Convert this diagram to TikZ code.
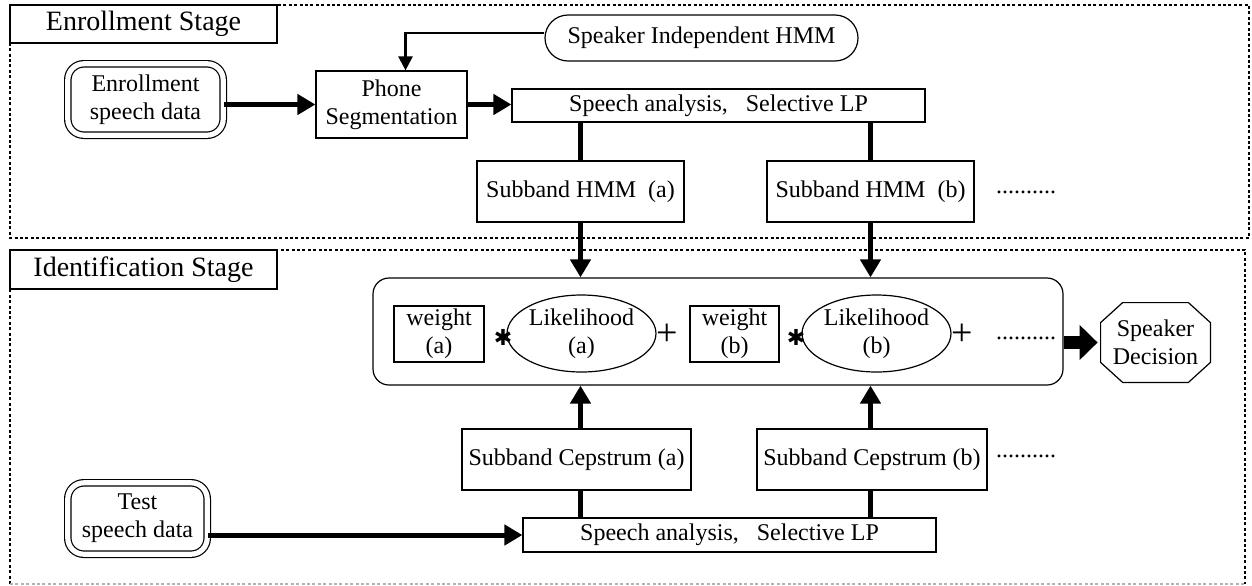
\documentclass[tikz,border=0pt]{standalone}
\usepackage{fontspec}
\setmainfont{Liberation Serif}
\newfontfamily\symfont{DejaVu Sans}
\usetikzlibrary{positioning,arrows.meta,shapes.geometric}

\begin{document}
\begin{tikzpicture}[x=0.5pt, y=-0.5pt, font=\fontsize{12}{14}\selectfont,
  box/.style={draw, line width=0.6pt, inner sep=0pt, align=center},
  datanode/.style={draw, line width=0.6pt, double, double distance=2.6pt, rounded corners=8pt, inner sep=0pt, align=center},
  stageframe/.style={line width=0.6pt, dash pattern=on 1.5pt off 1.2pt},
  flow/.style={line width=2.5pt, -{Triangle[length=9pt,width=10pt]}},
  link/.style={line width=2.5pt}]
\useasboundingbox (0,0) rectangle (1252,585);
\draw[stageframe] (10,5) rectangle (1249,238);
\draw[stageframe] (10,584) -- (10,250) -- (1245,250) -- (1245,584);
\draw[stageframe, gray!60] (10,584) -- (1245,584);
\node[box, minimum width=133.5pt, minimum height=19pt, fill=white, font=\fontsize{14}{16}\selectfont] (enrstage) at (143.5,24) {Enrollment Stage};
\node[box, minimum width=133.5pt, minimum height=19.5pt, fill=white, font=\fontsize{14}{16}\selectfont] (idstage) at (143.5,269.5) {Identification Stage};
% enrollment
\node[datanode, minimum width=77.7pt, minimum height=35.7pt] (enr) at (145.5,99.5) {Enrollment\\speech data};
\node[box, minimum width=75.5pt, minimum height=33.5pt] (phone) at (391.5,104.5) {Phone\\Segmentation};
\node[box, rounded corners=11.5pt, minimum width=156.5pt, minimum height=23pt] (sihmm) at (701.5,38) {Speaker Independent HMM};
\node[box, minimum width=206.5pt, minimum height=16.5pt] (spa) at (718.5,105.5) {Speech analysis, \ \ Selective LP};
\node[box, minimum width=103.5pt, minimum height=30.5pt] (hmma) at (580.5,191.5) {Subband HMM\ \ (a)};
\node[box, minimum width=103.5pt, minimum height=30.5pt] (hmmb) at (870.5,191.5) {Subband HMM\ \ (b)};
\node (dotsa) at (1026,192) {..........};
\draw[flow] (enr.east |- phone.west) -- (phone.west);
\draw[flow] (phone.east) -- (phone.east -| spa.west);
\draw[line width=1.2pt, -{Triangle[length=7pt,width=7pt]}] ([yshift=2.5pt]sihmm.west) -| ([xshift=7pt]phone.north);
\draw[link] (spa.south -| hmma) -- (hmma.north);
\draw[link] (spa.south -| hmmb) -- (hmmb.north);
% identification
\node[box, rounded corners=8pt, minimum width=345pt, minimum height=53.5pt] (lbox) at (718,331.5) {};
\node[box, minimum width=45pt, minimum height=28pt] (wa) at (439,334) {weight\\(a)};
\node (asta) at (503,337) {\symfont\fontsize{11}{12}\selectfont ✱};
\node[box, ellipse, minimum width=64.5pt, minimum height=38.5pt] (la) at (581.5,333.5) {Likelihood\\(a)};
\node (plusa) at (667,335) {\fontsize{19}{20}\selectfont +};
\node[box, minimum width=44.5pt, minimum height=28pt] (wb) at (734.5,334) {weight\\(b)};
\node (astb) at (796,337) {\symfont\fontsize{11}{12}\selectfont ✱};
\node[box, ellipse, minimum width=63.5pt, minimum height=38.5pt] (lb) at (876.5,333.5) {Likelihood\\(b)};
\node (plusb) at (962,335) {\fontsize{19}{20}\selectfont +};
\node (dotsb) at (1026,338) {..........};
\node[inner sep=0pt, align=center, minimum width=54.5pt, minimum height=39.5pt] (sdec) at (1155.5,342.5) {Speaker\\Decision};
\draw[line width=0.6pt] ([xshift=11pt]sdec.north west) -- ([xshift=-11pt]sdec.north east) -- ([yshift=-10pt]sdec.north east) -- ([yshift=10pt]sdec.south east) -- ([xshift=-11pt]sdec.south east) -- ([xshift=11pt]sdec.south west) -- ([yshift=10pt]sdec.south west) -- ([yshift=-10pt]sdec.north west) -- cycle;
\draw[line width=6.5pt, -{Triangle[length=9pt,width=17pt]}] (lbox.east |- sdec.west) -- ([xshift=-1.5pt]sdec.west);
\node[box, minimum width=114.5pt, minimum height=30.5pt] (cepa) at (576.5,459.5) {Subband Cepstrum (a)};
\node[box, minimum width=115pt, minimum height=30.5pt] (cepb) at (872,459.5) {Subband Cepstrum (b)};
\node (dotsc) at (1026,456) {..........};
\node[box, minimum width=206.5pt, minimum height=17pt] (spb) at (729.5,535) {Speech analysis, \ \ Selective LP};
\node[datanode, minimum width=69.7pt, minimum height=35.7pt] (test) at (137.5,518.5) {Test\\speech data};
\draw[flow] (hmma.south) -- (hmma.south |- lbox.north);
\draw[flow] (hmmb.south) -- (hmmb.south |- lbox.north);
\draw[flow] (hmma |- cepa.north) -- (hmma |- lbox.south);
\draw[flow] (hmmb |- cepb.north) -- (hmmb |- lbox.south);
\draw[link] (hmma |- spb.north) -- (hmma |- cepa.south);
\draw[link] (hmmb |- spb.north) -- (hmmb |- cepb.south);
\draw[flow] (test.east |- spb.west) -- (spb.west);
\end{tikzpicture}
\end{document}
